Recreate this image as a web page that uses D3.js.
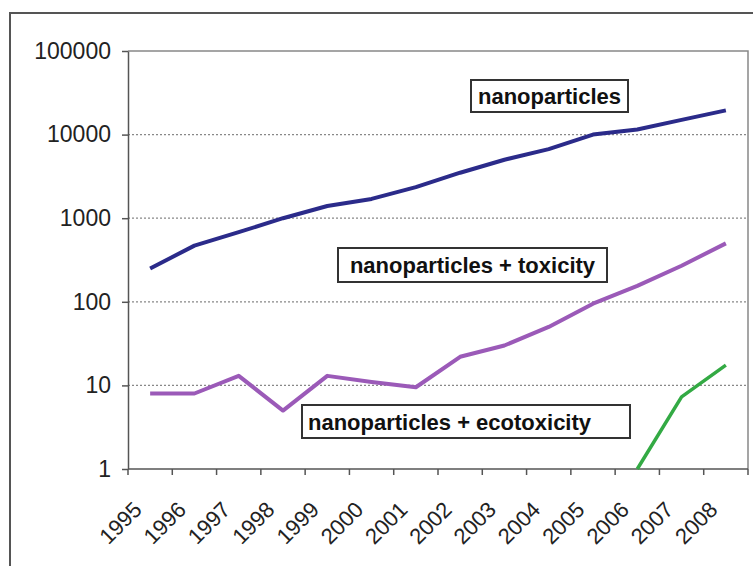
<!DOCTYPE html>
<html>
<head>
<meta charset="utf-8">
<script src="https://cdn.jsdelivr.net/npm/d3@7"></script>
<style>
  body { margin: 0; background: #fff; }
  svg { display: block; font-family: "Liberation Sans", Arial, sans-serif; }
</style>
</head>
<body>
<svg id="chart" width="753" height="566"></svg>
<script>
// publication counts per year (log scale)
var years = ["1995", "1996", "1997", "1998", "1999", "2000", "2001",
             "2002", "2003", "2004", "2005", "2006", "2007", "2008"];
var nano = [250, 470, 680, 1000, 1400, 1700, 2350, 3500, 5000, 6700, 10000, 11500, 15000, 19500];
var tox = [8, 8, 13, 5, 13, 11, 9.5, 22, 30, 50, 95, 155, 270, 500];
var eco = [null, null, null, null, null, null, null, null, null, null, null, 1, 7.3, 17.5];
var yTicks = [1, 10, 100, 1000, 10000, 100000];
var gridVals = [10, 100, 1000, 10000];

function draw() {
    var svg = d3.select("#chart");

    // outer frame
    svg.append("rect")
        .attr("x", 10).attr("y", 13)
        .attr("width", 760).attr("height", 580)
        .attr("fill", "none")
        .attr("stroke", "#555")
        .attr("stroke-width", 2);

    var pL = 128, pR = 748, pT = 51, pB = 469;

    var x = d3.scaleBand().domain(years).range([pL, pR]);
    var y = d3.scaleLog().domain([1, 100000]).range([pB, pT]);
    var bw = x.bandwidth();

    // dotted gridlines
    svg.selectAll("line.grid").data(gridVals).enter()
        .append("line").attr("class", "grid")
        .attr("x1", pL).attr("x2", pR)
        .attr("y1", function (d) { return y(d); })
        .attr("y2", function (d) { return y(d); })
        .attr("stroke", "#888")
        .attr("stroke-width", 1.2)
        .attr("stroke-dasharray", "2,2");

    // top + right border of plot area
    svg.append("path")
        .attr("d", "M" + pL + "," + y(100000) + "H" + pR + "V" + pB)
        .attr("fill", "none")
        .attr("stroke", "#888")
        .attr("stroke-width", 1.5);

    // y axis
    var yAxis = svg.append("g")
        .attr("transform", "translate(" + pL + ",0)")
        .call(d3.axisLeft(y).tickValues(yTicks).tickFormat(d3.format("d")).tickSize(6).tickSizeOuter(0));
    yAxis.select(".domain").attr("stroke", "#555").attr("stroke-width", 1.5);
    yAxis.selectAll(".tick line").attr("stroke", "#555").attr("stroke-width", 1.5);
    yAxis.selectAll(".tick text")
        .attr("x", -17)
        .attr("fill", "#222")
        .style("font-size", "23px")
        .style("font-family", "'Liberation Sans', Arial, sans-serif");

    // x axis line + ticks on category boundaries
    svg.append("line")
        .attr("x1", pL).attr("x2", pR)
        .attr("y1", pB).attr("y2", pB)
        .attr("stroke", "#555").attr("stroke-width", 1.5);
    var bounds = years.map(function (d) { return x(d); }).concat([pR]);
    svg.selectAll("line.xt").data(bounds).enter()
        .append("line").attr("class", "xt")
        .attr("x1", function (d) { return d; })
        .attr("x2", function (d) { return d; })
        .attr("y1", pB).attr("y2", pB + 6)
        .attr("stroke", "#555").attr("stroke-width", 1.5);

    svg.selectAll("text.xl").data(years).enter()
        .append("text").attr("class", "xl")
        .attr("transform", function (d) {
            return "translate(" + (x(d) + bw / 2 - 7) + "," + 511 + ") rotate(-45)";
        })
        .attr("text-anchor", "end")
        .attr("fill", "#222")
        .style("font-size", "22px")
        .text(function (d) { return d; });

    // lines
    var line = d3.line()
        .defined(function (d) { return d != null; })
        .x(function (d, i) { return x(years[i]) + bw / 2; })
        .y(function (d) { return y(d); });

    var series = [
        { vals: nano, color: "#2b2b8a", w: 4 },
        { vals: tox, color: "#9b5ab8", w: 4 },
        { vals: eco, color: "#33aa44", w: 3.5 }
    ];
    series.forEach(function (s) {
        svg.append("path")
            .datum(s.vals)
            .attr("d", line)
            .attr("fill", "none")
            .attr("stroke", s.color)
            .attr("stroke-width", s.w)
            .attr("stroke-linejoin", "round");
    });

    // label boxes
    var labels = [
        { text: "nanoparticles", bx: 471, by: 80, bwid: 157, bh: 32, tx: 549.5, anchor: "middle" },
        { text: "nanoparticles + toxicity", bx: 338, by: 248, bwid: 269, bh: 34, tx: 472.5, anchor: "middle" },
        { text: "nanoparticles + ecotoxicity", bx: 302, by: 405, bwid: 328, bh: 33, tx: 308, anchor: "start" }
    ];
    labels.forEach(function (l) {
        svg.append("rect")
            .attr("x", l.bx).attr("y", l.by)
            .attr("width", l.bwid).attr("height", l.bh)
            .attr("fill", "#fff")
            .attr("stroke", "#333")
            .attr("stroke-width", 2);
        svg.append("text")
            .attr("x", l.tx).attr("y", l.by + l.bh / 2 + 8)
            .attr("text-anchor", l.anchor)
            .attr("fill", "#111")
            .style("font-size", "22px")
            .style("font-weight", "bold")
            .text(l.text);
    });
}

draw();
</script>
</body>
</html>
